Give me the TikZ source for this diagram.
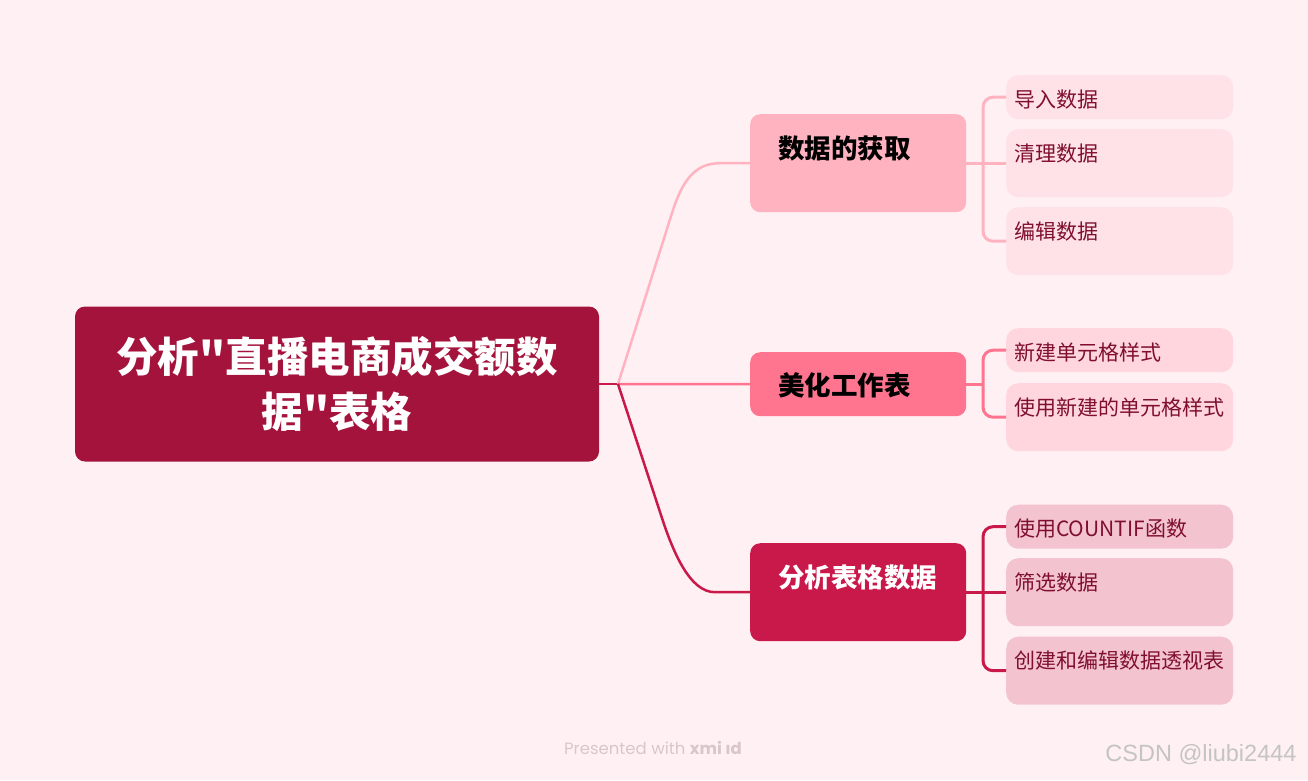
\documentclass[tikz,border=0pt]{standalone}
\usepackage{fontspec}
\setmainfont{Noto Sans CJK SC}
\newfontfamily\cjk{Noto Sans CJK SC}
\newfontfamily\footfont{Poppins}
\newfontfamily\wmfont{Liberation Sans}
\usetikzlibrary{calc}
\definecolor{bg}{HTML}{FFF0F3}
\definecolor{rootc}{HTML}{A4133C}
\definecolor{bA}{HTML}{FFB3C1}
\definecolor{bB}{HTML}{FF758F}
\definecolor{bC}{HTML}{C9184A}
\definecolor{lA}{HTML}{FFE2E7}
\definecolor{lB}{HTML}{FFD6DE}
\definecolor{lC}{HTML}{F3C4CF}
\definecolor{leaftext}{HTML}{800F2F}
\definecolor{footc}{HTML}{D8C6CB}
\definecolor{wmc}{HTML}{C4C4C4}
\begin{document}
\begin{tikzpicture}[x=1pt,y=-1pt,
  rootbox/.style={fill=rootc, rounded corners=10, minimum width=524, minimum height=155,
    text width=500, align=center, inner sep=0, text=white,
    font=\cjk\bfseries\fontsize{41.5}{55}\selectfont},
  branchbox/.style={anchor=north west, rounded corners=10, minimum width=216, text width=160,
    align=left, inner sep=0, font=\cjk\bfseries\fontsize{26.5}{30}\selectfont},
  leafbox/.style={anchor=north west, rounded corners=12, minimum width=227, text width=211,
    align=left, inner sep=0, text=leaftext, text height=32,
    font=\cjk\fontsize{21}{24}\selectfont},
  conn/.style={line width=2.5pt},
  leafconn/.style={line width=3pt, rounded corners=10},
]
\fill[bg] (0,0) rectangle (1308,780);
\useasboundingbox (0,0) rectangle (1308,780);

% root
\node[rootbox] (root) at (337,384) {分析"直播电商成交额数\\据"表格};
\coordinate (j) at (618,384);

% branches
\node[branchbox, fill=bA, text=black, text height=44, text depth=54] (b1) at (750,114) {数据的获取};
\node[branchbox, fill=bB, text=black, text height=43, text depth=21] (b2) at (750,352) {美化工作表};
\node[branchbox, fill=bC, text=white, text height=44.5, text depth=53.5] (b3) at (750,543) {分析表格数据};

% leaves
\node[leafbox, fill=lA, text depth=12] (l11) at (1006,75) {导入数据};
\node[leafbox, fill=lA, text depth=36] (l12) at (1006,129) {清理数据};
\node[leafbox, fill=lA, text depth=36] (l13) at (1006,207) {编辑数据};
\node[leafbox, fill=lB, text depth=12] (l21) at (1006,328) {新建单元格样式};
\node[leafbox, fill=lB, text depth=36] (l22) at (1006,383) {使用新建的单元格样式};
\node[leafbox, fill=lC, text depth=12] (l31) at (1006,504.5) {使用COUNTIF函数};
\node[leafbox, fill=lC, text depth=36] (l32) at (1006,558) {筛选数据};
\node[leafbox, fill=lC, text depth=36] (l33) at (1006,636.5) {创建和编辑数据透视表};

% root to branches
\draw[conn, bC] (root.east) -- (j);
\draw[conn, bA] (j) -- ($(j)+(54,-171)$) .. controls ($(j)+(64.5,-204)$) and ($(b1.west)+(-55,0)$) .. ($(b1.west)+(-30,0)$) -- (b1.west);
\draw[conn, bB] (j) -- (b2.west);
\draw[conn, bC] (j) -- ($(j)+(42,128)$) .. controls ($(j)+(55,169)$) and ($(b3.west)+(-60,0)$) .. ($(b3.west)+(-35,0)$) -- (b3.west);

% branches to leaves
\draw[leafconn, bA] (b1.east) -- (l12.west);
\draw[leafconn, bA] (l11.west) -- ++(-23,0) |- (l13.west);
\draw[leafconn, bB] (b2.east) -- ($(b2.east)+(17,0)$);
\draw[leafconn, bB] (l21.west) -- ++(-23,0) |- (l22.west);
\draw[leafconn, bC] (b3.east) -- (l32.west);
\draw[leafconn, bC] (l31.west) -- ++(-23,0) |- (l33.west);

% footer and watermark
\node[text=footc, font=\footfont\fontsize{16.5}{20}\selectfont, inner sep=0] (foot) at (653,748) {Presented with \textbf{xmi ıd}};
\node[text=wmc, font=\wmfont\fontsize{23.5}{28}\selectfont, inner sep=0] (wm) at (1201,755) {CSDN @liubi2444};
\end{tikzpicture}
\end{document}
